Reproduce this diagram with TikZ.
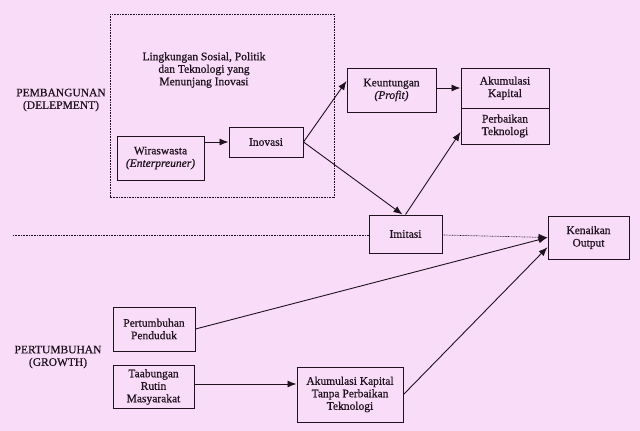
\documentclass[tikz,border=0pt]{standalone}
\usepackage{fontspec}
\setmainfont{Liberation Serif}[UprightFeatures={FakeBold=0.6},ItalicFeatures={FakeBold=0.6}]
\usetikzlibrary{arrows.meta,calc}
\definecolor{bg}{RGB}{249,221,248}
\definecolor{ink}{RGB}{30,18,30}
\begin{document}
\begin{tikzpicture}[x=1pt,y=-1pt,
 box/.style={draw=ink,line width=1pt,rectangle,inner sep=0pt,align=center,font=\fontsize{11.5}{12.5}\selectfont,text=ink},
 lbl/.style={align=center,inner sep=0pt,font=\fontsize{11.5}{12.5}\selectfont,text=ink},
 arr/.style={draw=ink,line width=0.9pt,-{Latex[length=9pt,width=7pt]}},
 dots/.style={draw=ink,line width=0.7pt,dash pattern=on 0.8pt off 0.8pt}]
\fill[bg] (0,0) rectangle (640,431);
\useasboundingbox (0,0) rectangle (640,431);
% environment box
\draw[dots] (110,14) rectangle (334,197);
\node[lbl] (env) at (204,70) {Lingkungan Sosial, Politik\\dan Teknologi yang\\Menunjang Inovasi};
\node[lbl] (pemb) at (61,100) {PEMBANGUNAN\\(DELEPMENT)};
\node[lbl] (pert-l) at (58,357) {PERTUMBUHAN\\(GROWTH)};
% boxes
\node[box,minimum width=87pt,minimum height=44pt] (wira) at (160.5,158) {Wiraswasta\\\textit{(Enterpreuner)}};
\node[box,minimum width=74pt,minimum height=30pt] (inov) at (266,142) {Inovasi};
\node[box,minimum width=89pt,minimum height=44pt] (keun) at (391.5,90) {Keuntungan\\\textit{(Profit)}};
\node[box,minimum width=88pt,minimum height=40pt] (akum) at (505,88) {Akumulasi\\Kapital};
\node[box,minimum width=88pt,minimum height=36pt] (perb) at (505,126) {Perbaikan\\Teknologi};
\node[box,minimum width=73pt,minimum height=38pt] (imit) at (405.5,234) {Imitasi};
\node[box,minimum width=81pt,minimum height=43pt] (kena) at (588.5,237.5) {Kenaikan\\Output};
\node[box,minimum width=82pt,minimum height=44pt] (pert) at (154,329) {Pertumbuhan\\Penduduk};
\node[box,minimum width=81pt,minimum height=43pt] (taab) at (153.5,387) {Taabungan\\Rutin\\Masyarakat};
\node[box,minimum width=106pt,minimum height=55pt] (akt) at (350,394.5) {Akumulasi Kapital\\Tanpa Perbaikan\\Teknologi};
% dotted divider
\coordinate (dl) at (13,235);
\draw[dots] (dl) -- (dl -| imit.west);
\draw[dots,-{Latex[length=9pt,width=7pt]}] (imit.east |- dl) -- (kena.west);
% connectors
\draw[arr] (wira.east |- inov.west) -- (inov.west);
\draw[arr] (inov.east) -- ($(keun.north west)!0.3!(keun.south west)$);
\draw[arr] (inov.east) -- ([xshift=-3pt]imit.north);
\draw[arr] (keun.east |- akum.west) -- (akum.west);
\draw[arr] (imit.north) -- ([yshift=-6pt]perb.west);
\draw[arr] (pert.east) -- (kena.west);
\draw[arr] ([yshift=3pt]taab.east) -- ([yshift=3pt]taab.east -| akt.west);
\draw[arr] (akt.east) -- ($(kena.north west)!0.72!(kena.south west)$);
\end{tikzpicture}
\end{document}
